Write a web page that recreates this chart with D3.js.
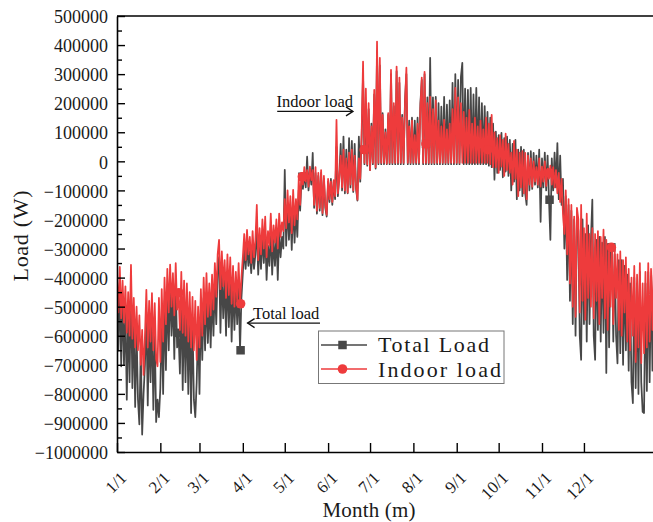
<!DOCTYPE html>
<html><head><meta charset="utf-8">
<script src="https://cdn.jsdelivr.net/npm/d3@7/dist/d3.min.js"></script>
<style>body{margin:0;background:#fff}svg{display:block}</style>
</head><body>
<svg id="c" width="653" height="522"></svg>
<script>
// ---------- data (values in kW; drawn in W = kW x 1000) ----------
const monthStartDays = [0, 31, 59, 90, 120, 151, 181, 212, 243, 273, 304, 334];
const monthLabels = ["1/1","2/1","3/1","4/1","5/1","6/1","7/1","8/1","9/1","10/1","11/1","12/1"];
const yTickValues = [-1000000,-900000,-800000,-700000,-600000,-500000,-400000,-300000,-200000,-100000,0,100000,200000,300000,400000,500000];
const yTickLabels = ["\u22121000000","\u2212900000","\u2212800000","\u2212700000","\u2212600000","\u2212500000","\u2212400000","\u2212300000","\u2212200000","\u2212100000","0","100000","200000","300000","400000","500000"];
const yMinorTicks = [-950000,-850000,-750000,-650000,-550000,-450000,-350000,-250000,-150000,-50000,50000,150000,250000,350000,450000];
const seriesNames = ["Total Load", "Indoor load"];

// one value per day, day 0 = 1/1
const totalKW = [
-450,-650,-420,-705,-470,-700,-500,-820,-520,-760,
-420,-780,-540,-845,-580,-820,-905,-640,-940,-800,
-700,-520,-840,-560,-760,-540,-855,-580,-897,-820,
-880,-780,-540,-800,-480,-718,-440,-650,-420,-600,
-460,-680,-420,-640,-590,-730,-460,-787,-500,-760,
-500,-800,-520,-866,-540,-820,-880,-760,-560,-800,
-500,-683,-470,-650,-450,-625,-480,-640,-450,-600,
-420,-560,-380,-330,-590,-380,-540,-400,-600,-390,
-570,-400,-620,-420,-580,-440,-560,-420,-650,-470,
-385,-300,-370,-290,-360,-310,-385,-300,-370,-320,
-220,-390,-280,-370,-260,-350,-250,-408,-290,-360,
-240,-390,-270,-360,-250,-408,-240,-330,-260,-300,
-29,-290,-150,-270,-160,-305,-140,-280,-170,-260,
-100,-170,-60,-95,-40,-90,16,-100,-30,-80,
29,-160,-40,-180,-50,-170,-40,-185,-60,-160,
-190,-70,-140,-60,-150,-70,-130,50,-120,-50,
60,-100,85,-110,40,-110,80,-90,70,-105,
60,-95,-135,85,-70,80,300,-10,200,-15,
180,-30,130,-10,230,-25,380,-10,330,-10,
166,-10,110,-10,160,-10,300,-10,190,-10,
310,-10,270,-10,160,-10,210,300,-10,140,
-10,150,-10,140,-10,150,-10,200,280,-10,
300,-10,220,-10,356,-10,220,-10,222,-10,
200,-10,188,-10,222,-10,195,-10,210,-10,
270,-10,300,-10,280,-10,291,339,-10,250,
-10,246,-10,253,-10,230,-10,253,-10,220,
-10,200,-10,190,-10,170,-15,150,-20,130,
-63,102,-40,90,-30,98,-55,80,-35,85,
-50,74,-100,60,-70,74,-130,40,-100,50,
-120,40,-110,-150,29,-100,35,-95,29,-80,
20,-90,40,-208,10,-90,30,-100,20,-132,
-270,10,-100,30,-90,63,-130,20,-150,-60,
-300,-120,-408,-150,-480,-170,-560,-200,-600,-180,
-240,-600,-683,-200,-560,-250,-620,-220,-560,-270,
-132,-600,-683,-270,-580,-260,-620,-280,-590,-260,
-728,-290,-640,-310,-296,-620,-320,-600,-695,-340,
-660,-340,-700,-360,-650,-390,-720,-420,-760,-832,
-400,-780,-420,-800,-380,-760,-862,-866,-420,-790,
-380,-760,-400,-720,-390
];
const indoorKW = [
-400,-520,-363,-540,-410,-555,-430,-590,-450,-600,
-356,-610,-470,-640,-500,-650,-530,-700,-580,-735,
-600,-442,-640,-480,-620,-453,-650,-488,-680,-705,
-470,-690,-440,-620,-400,-560,-370,-520,-355,-500,
-385,-530,-350,-510,-452,-580,-380,-590,-410,-600,
-420,-620,-450,-640,-466,-650,-480,-683,-500,-640,
-440,-600,-400,-560,-385,-535,-420,-530,-390,-510,
-350,-466,-320,-270,-440,-310,-430,-340,-470,-320,
-460,-330,-490,-360,-500,-380,-480,-350,-490,-400,
-330,-250,-340,-236,-320,-260,-350,-240,-330,-270,
-150,-340,-230,-320,-200,-300,-190,-330,-240,-290,
-180,-310,-220,-280,-200,-300,-180,-260,-210,-240,
-130,-230,-100,-210,-120,-247,-98,-220,-130,-200,
-60,-150,-40,-80,-20,-70,-30,-87,-18,-65,
-30,-150,-20,-170,-40,-160,-30,-178,-50,-150,
-184,-60,-130,-70,-140,-65,-120,143,-110,-60,
20,-90,40,-100,10,-108,30,-80,40,-100,
20,-90,-132,10,-60,100,343,-5,250,-10,
200,-30,120,-5,246,-20,412,-5,356,-5,
160,-5,100,-8,166,-5,315,-5,200,-5,
326,-5,288,-5,150,-5,200,322,-5,120,
-5,140,-5,90,-5,130,-5,180,288,-5,
308,-5,200,-5,222,-5,180,-5,210,-5,
140,-5,120,-5,143,-5,110,-5,130,-5,
180,-5,253,-5,220,-5,200,-5,170,-5,
150,-5,177,-5,130,-5,150,-5,120,-5,
140,-5,110,-5,150,-5,130,-10,160,-20,
100,-20,80,-40,90,-18,74,-50,95,-30,
60,-40,30,-80,70,-60,40,-120,30,-90,
35,-110,29,-130,20,-80,10,-87,0,-70,
-20,-80,10,-87,-18,-70,0,-85,-25,-60,
-15,-80,-20,-90,-30,-110,-40,-140,-60,-180,
-250,-100,-320,-130,-420,-150,-500,-190,-535,-160,
-200,-520,-150,-480,-230,-545,-180,-470,-250,-500,
-230,-540,-250,-480,-240,-560,-260,-470,-235,-540,
-270,-580,-290,-500,-296,-560,-300,-470,-320,-580,
-310,-600,-340,-520,-330,-620,-370,-650,-400,-600,
-360,-690,-390,-640,-350,-694,-420,-660,-380,-640,
-350,-620,-370,-580,-360
];
// symbol markers drawn along each line
const markerDays = [44.2, 88.4, 132.6, 176.8, 221.0, 265.2, 309.4, 353.6];
const totalMarkerKW = [-590, -650, -53, 40, 60, 40, -132, -296];
const indoorMarkerKW = [-452, -490, -53, 40, 60, 40, -40, -296];

// annotations (data units: day, W)
const annotations = [
  {text: "Indoor load", textDay: 168.8, textAnchor: "end", textVal: 188000, arrowFrom: 114.6, arrowTo: 168.8, arrowVal: 171800},
  {text: "Total load", textDay: 97.3, textAnchor: "start", textVal: -541800, arrowFrom: 145.2, arrowTo: 93.4, arrowVal: -556600}
];

// ---------- drawing ----------
const COL_TOTAL = "#474747", COL_INDOOR = "#ee3b3c";
const L = 117, R = 653, T = 16, B = 452;
const svg = d3.select("#c");
const x = d3.scaleLinear().domain([0, 383.4]).range([L, R]);
const y = d3.scaleLinear().domain([-1000000, 500000]).range([B, T]);

svg.append("defs").append("clipPath").attr("id","clip")
  .append("rect").attr("x",L).attr("y",T).attr("width",R-L).attr("height",B-T);
const plot = svg.append("g").attr("clip-path","url(#clip)");

const line = d3.line().x((v,i)=>x(i)).y(v=>y(v*1000));

function drawSeries(vals, color, mVals, shape){
  plot.append("path").datum(vals).attr("d", line)
    .attr("fill","none").attr("stroke",color).attr("stroke-width",1.75)
    .attr("stroke-linejoin","round");
  const g = plot.append("g");
  markerDays.forEach((d,i)=>{
    const cx = x(d), cy = y(mVals[i]*1000);
    if (shape === "square") g.append("rect").attr("x",cx-4.25).attr("y",cy-4.25).attr("width",8.5).attr("height",8.5).attr("fill",color);
    else g.append("circle").attr("cx",cx).attr("cy",cy).attr("r",4.8).attr("fill",color);
  });
}
drawSeries(totalKW, COL_TOTAL, totalMarkerKW, "square");
drawSeries(indoorKW, COL_INDOOR, indoorMarkerKW, "circle");

const serif = "'Liberation Serif','Times New Roman',serif";

// left axis
const gy = svg.append("g").attr("transform",`translate(${L},0)`)
  .call(d3.axisLeft(y).tickValues(yTickValues).tickSizeInner(-8).tickSizeOuter(0).tickPadding(9)
    .tickFormat((d,i)=>yTickLabels[i]));
gy.selectAll("text").attr("font-family",serif).attr("font-size",18).attr("fill","#1a1a1a").attr("dy","0.37em");
svg.append("g").attr("transform",`translate(${L},0)`)
  .call(d3.axisLeft(y).tickValues(yMinorTicks).tickSize(-5).tickFormat(""))
  .select(".domain").remove();

// bottom axis
const gx = svg.append("g").attr("transform",`translate(0,${B})`)
  .call(d3.axisBottom(x).tickValues(monthStartDays).tickSizeInner(-9).tickSizeOuter(0)
    .tickFormat((d,i)=>monthLabels[i]));
gx.selectAll("text").attr("font-family",serif).attr("font-size",17).attr("fill","#1a1a1a")
  .attr("x",0).attr("y",0).attr("dy",0).attr("text-anchor","end")
  .attr("transform","translate(10,27) rotate(-45)");

svg.selectAll(".domain").attr("stroke","#000").attr("stroke-width",1.6);
svg.selectAll(".tick line").attr("stroke","#000").attr("stroke-width",1.4);
// top frame line
svg.append("line").attr("x1",L).attr("x2",R).attr("y1",T).attr("y2",T).attr("stroke","#000").attr("stroke-width",1.6);

// axis titles
svg.append("text").attr("x",369).attr("y",517).attr("text-anchor","middle")
  .attr("font-family",serif).attr("font-size",21).attr("fill","#1a1a1a")
  .attr("textLength",93).attr("lengthAdjust","spacing").text("Month (m)");
svg.append("text").attr("transform","translate(28,236) rotate(-90)").attr("text-anchor","middle")
  .attr("font-family",serif).attr("font-size",22).attr("fill","#1a1a1a")
  .attr("textLength",91).attr("lengthAdjust","spacing").text("Load (W)");

// annotations
annotations.forEach(a=>{
  svg.append("text").attr("x",x(a.textDay)).attr("y",y(a.textVal)).attr("text-anchor",a.textAnchor)
    .attr("font-family",serif).attr("font-size",16.5).attr("fill","#111").text(a.text);
  const x1 = x(a.arrowFrom), x2 = x(a.arrowTo), yy = y(a.arrowVal);
  const dir = x2 > x1 ? 1 : -1;
  svg.append("line").attr("x1",x1).attr("x2",x2).attr("y1",yy).attr("y2",yy).attr("stroke","#111").attr("stroke-width",1.3);
  svg.append("path").attr("d",`M${x2-dir*7},${yy-4.5}L${x2},${yy}L${x2-dir*7},${yy+4.5}`)
    .attr("fill","none").attr("stroke","#111").attr("stroke-width",1.3);
});

// legend
const lg = svg.append("g");
lg.append("rect").attr("x",318.5).attr("y",331).attr("width",185.5).attr("height",52.5)
  .attr("fill","#fff").attr("stroke","#777").attr("stroke-width",1);
[[COL_TOTAL,"square",345,352,111],[COL_INDOOR,"circle",369,377,123]].forEach((r,i)=>{
  lg.append("line").attr("x1",321).attr("x2",367).attr("y1",r[2]).attr("y2",r[2]).attr("stroke",r[0]).attr("stroke-width",1.6);
  if (r[1]==="square") lg.append("rect").attr("x",342.5-4.25).attr("y",r[2]-4.25).attr("width",8.5).attr("height",8.5).attr("fill",r[0]);
  else lg.append("circle").attr("cx",342.5).attr("cy",r[2]).attr("r",4.8).attr("fill",r[0]);
  lg.append("text").attr("x",378).attr("y",r[3]).attr("font-family",serif).attr("font-size",22)
    .attr("fill","#1a1a1a").attr("textLength",r[4]).attr("lengthAdjust","spacing").text(seriesNames[i]);
});
</script>
</body></html>
